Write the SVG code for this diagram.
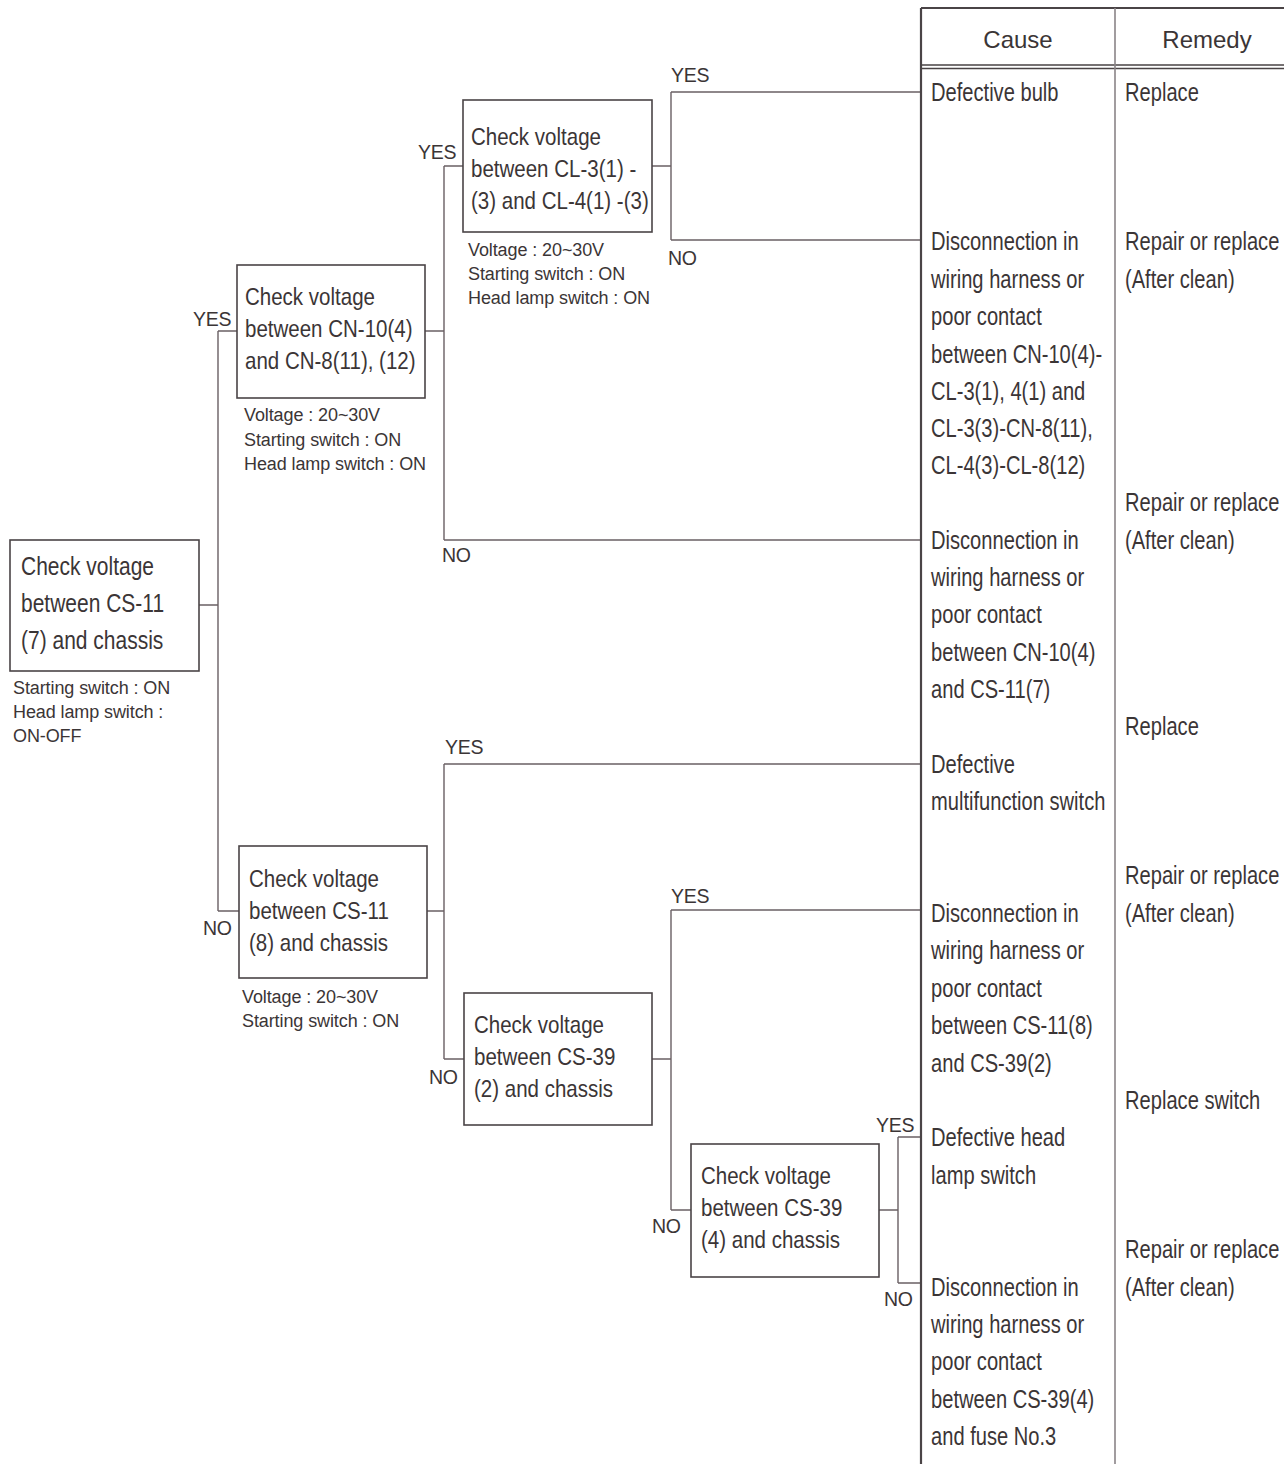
<svg xmlns="http://www.w3.org/2000/svg" width="1284" height="1464" viewBox="0 0 1284 1464">
<style>
text{font-family:"Liberation Sans",Arial,sans-serif;fill:#3b3536}
.bt{font-size:24px}
.ba{font-size:25px}
.tt{font-size:25px}
.ht{font-size:24px}
.nt{font-size:18px;letter-spacing:-0.1px}
.lb{font-size:19.5px;letter-spacing:-0.3px}
.box{fill:#fff;stroke:#4a4446;stroke-width:1.6}
.cn{fill:none;stroke:#6a6064;stroke-width:1.4}
</style>
<rect width="1284" height="1464" fill="#fff"/>

<g id="connectors">
  <path class="cn" d="M199,605 H218 M218,331 V911 M218,331 H237 M218,911 H239"/>
  <path class="cn" d="M425,331 H444 M444,166 V540 M444,166 H463 M444,540 H921"/>
  <path class="cn" d="M652,166 H671 M671,92 V240 M671,92 H921 M671,240 H921"/>
  <path class="cn" d="M427,911 H444 M444,764 V1059 M444,764 H921 M444,1059 H464"/>
  <path class="cn" d="M652,1059 H671 M671,910 V1210 M671,910 H921 M671,1210 H691"/>
  <path class="cn" d="M879,1210 H898 M898,1137 V1283 M898,1137 H921 M898,1283 H921"/>
  <text class="lb" x="193" y="326">YES</text>
  <text class="lb" x="203" y="935">NO</text>
  <text class="lb" x="418" y="159">YES</text>
  <text class="lb" x="442" y="562">NO</text>
  <text class="lb" x="671" y="82">YES</text>
  <text class="lb" x="668" y="265">NO</text>
  <text class="lb" x="445" y="754">YES</text>
  <text class="lb" x="429" y="1084">NO</text>
  <text class="lb" x="671" y="903">YES</text>
  <text class="lb" x="652" y="1233">NO</text>
  <text class="lb" x="876" y="1132">YES</text>
  <text class="lb" x="884" y="1306">NO</text>
</g>

<g id="node-a">
  <rect class="box" x="10" y="540" width="189" height="131"/>
  <g transform="translate(21 0) scale(0.84 1)">
    <text class="ba" x="0" y="575">Check voltage</text>
    <text class="ba" x="0" y="612">between CS-11</text>
    <text class="ba" x="0" y="649">(7) and chassis</text>
  </g>
  <text class="nt" x="13" y="694">Starting switch : ON</text>
  <text class="nt" x="13" y="718">Head lamp switch :</text>
  <text class="nt" x="13" y="742">ON-OFF</text>
</g>

<g id="node-b">
  <rect class="box" x="237" y="265" width="188" height="133"/>
  <g transform="translate(245 0) scale(0.855 1)">
    <text class="bt" x="0" y="305">Check voltage</text>
    <text class="bt" x="0" y="337">between CN-10(4)</text>
    <text class="bt" x="0" y="369">and CN-8(11), (12)</text>
  </g>
  <text class="nt" x="244" y="421">Voltage : 20~30V</text>
  <text class="nt" x="244" y="446">Starting switch : ON</text>
  <text class="nt" x="244" y="470">Head lamp switch : ON</text>
</g>

<g id="node-c">
  <rect class="box" x="463" y="100" width="189" height="132"/>
  <g transform="translate(471 0) scale(0.855 1)">
    <text class="bt" x="0" y="145">Check voltage</text>
    <text class="bt" x="0" y="177">between CL-3(1) -</text>
    <text class="bt" x="0" y="209">(3) and CL-4(1) -(3)</text>
  </g>
  <text class="nt" x="468" y="256">Voltage : 20~30V</text>
  <text class="nt" x="468" y="280">Starting switch : ON</text>
  <text class="nt" x="468" y="304">Head lamp switch : ON</text>
</g>

<g id="node-d">
  <rect class="box" x="239" y="846" width="188" height="132"/>
  <g transform="translate(249 0) scale(0.855 1)">
    <text class="bt" x="0" y="887">Check voltage</text>
    <text class="bt" x="0" y="919">between CS-11</text>
    <text class="bt" x="0" y="951">(8) and chassis</text>
  </g>
  <text class="nt" x="242" y="1003">Voltage : 20~30V</text>
  <text class="nt" x="242" y="1027">Starting switch : ON</text>
</g>

<g id="node-e">
  <rect class="box" x="464" y="993" width="188" height="132"/>
  <g transform="translate(474 0) scale(0.855 1)">
    <text class="bt" x="0" y="1033">Check voltage</text>
    <text class="bt" x="0" y="1065">between CS-39</text>
    <text class="bt" x="0" y="1097">(2) and chassis</text>
  </g>
</g>

<g id="node-f">
  <rect class="box" x="691" y="1144" width="188" height="133"/>
  <g transform="translate(701 0) scale(0.855 1)">
    <text class="bt" x="0" y="1184">Check voltage</text>
    <text class="bt" x="0" y="1216">between CS-39</text>
    <text class="bt" x="0" y="1248">(4) and chassis</text>
  </g>
</g>

<g id="table">
  <path d="M921,8 V1464 M921,8 H1284" fill="none" stroke="#4a4446" stroke-width="2.2"/>
  <path d="M921,65 H1284 M921,68.5 H1284" fill="none" stroke="#4a4446" stroke-width="1.4"/>
  <path d="M1115,8 V1464" fill="none" stroke="#8a8487" stroke-width="1.6"/>
  <text class="ht" x="1018" y="48" text-anchor="middle">Cause</text>
  <text class="ht" x="1207" y="48" text-anchor="middle">Remedy</text>

  <g transform="translate(931 0) scale(0.805 1)">
    <text class="tt" x="0" y="101">Defective bulb</text>
    <text class="tt" x="0" y="250">Disconnection in</text>
    <text class="tt" x="0" y="288">wiring harness or</text>
    <text class="tt" x="0" y="325">poor contact</text>
    <text class="tt" x="0" y="363">between CN-10(4)-</text>
    <text class="tt" x="0" y="400">CL-3(1), 4(1) and</text>
    <text class="tt" x="0" y="437">CL-3(3)-CN-8(11),</text>
    <text class="tt" x="0" y="474">CL-4(3)-CL-8(12)</text>

    <text class="tt" x="0" y="549">Disconnection in</text>
    <text class="tt" x="0" y="586">wiring harness or</text>
    <text class="tt" x="0" y="623">poor contact</text>
    <text class="tt" x="0" y="661">between CN-10(4)</text>
    <text class="tt" x="0" y="698">and CS-11(7)</text>

    <text class="tt" x="0" y="773">Defective</text>
    <text class="tt" x="0" y="810">multifunction switch</text>

    <text class="tt" x="0" y="922">Disconnection in</text>
    <text class="tt" x="0" y="959">wiring harness or</text>
    <text class="tt" x="0" y="997">poor contact</text>
    <text class="tt" x="0" y="1034">between CS-11(8)</text>
    <text class="tt" x="0" y="1072">and CS-39(2)</text>

    <text class="tt" x="0" y="1146">Defective head</text>
    <text class="tt" x="0" y="1184">lamp switch</text>

    <text class="tt" x="0" y="1296">Disconnection in</text>
    <text class="tt" x="0" y="1333">wiring harness or</text>
    <text class="tt" x="0" y="1370">poor contact</text>
    <text class="tt" x="0" y="1408">between CS-39(4)</text>
    <text class="tt" x="0" y="1445">and fuse No.3</text>
  </g>

  <g transform="translate(1125 0) scale(0.805 1)">
    <text class="tt" x="0" y="101">Replace</text>
    <text class="tt" x="0" y="250">Repair or replace</text>
    <text class="tt" x="0" y="288">(After clean)</text>
    <text class="tt" x="0" y="511">Repair or replace</text>
    <text class="tt" x="0" y="549">(After clean)</text>
    <text class="tt" x="0" y="735">Replace</text>
    <text class="tt" x="0" y="884">Repair or replace</text>
    <text class="tt" x="0" y="922">(After clean)</text>
    <text class="tt" x="0" y="1109">Replace switch</text>
    <text class="tt" x="0" y="1258">Repair or replace</text>
    <text class="tt" x="0" y="1296">(After clean)</text>
  </g>
</g>
</svg>
